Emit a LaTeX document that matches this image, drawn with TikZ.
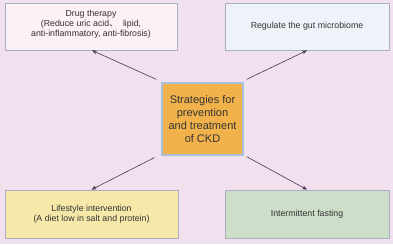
\documentclass[tikz,border=0pt]{standalone}
\usepackage{fontspec}
\setmainfont{Liberation Sans}
\newfontfamily\cjk{Noto Sans CJK SC}
\usetikzlibrary{arrows.meta}
\definecolor{bg}{HTML}{F1E1EE}
\definecolor{txt}{HTML}{333333}
\definecolor{edge}{HTML}{ABAFC4}
\definecolor{arr}{HTML}{463850}
\definecolor{fpink}{HTML}{FBF1F6}
\definecolor{fblue}{HTML}{EEF2F9}
\definecolor{forange}{HTML}{F2B24B}
\definecolor{eorange}{HTML}{A8C1DD}
\definecolor{fyellow}{HTML}{F5E8A9}
\definecolor{fgreen}{HTML}{CDDEC9}
\tikzset{
  outer/.style={draw=edge, line width=0.8pt, text=txt, align=center, font=\fontsize{8.8}{10.3}\selectfont, minimum width=172pt, minimum height=47pt, inner sep=0pt},
  centre/.style={draw=eorange, line width=1.2pt, fill=forange, text=txt, align=center, font=\fontsize{11}{13}\selectfont, minimum width=81pt, minimum height=72pt, inner sep=0pt},
  conn/.style={draw=arr, line width=0.6pt, -{Stealth[length=5pt,width=4pt]}}
}
\begin{document}
\begin{tikzpicture}[x=1pt,y=-1pt]
\fill[bg] (0,0) rectangle (393,244);
\useasboundingbox (0,0) rectangle (393,244);
\node[outer, fill=fpink, minimum width=172pt] (drug) at (91,26.5) {Drug therapy\\(Reduce uric acid{\cjk 、}\ \ lipid,\\anti-inflammatory, anti-fibrosis)\\[-4pt]\mbox{}};
\node[outer, fill=fblue, minimum width=164pt] (gut) at (307,26.5) {Regulate the gut microbiome};
\node[centre] (ckd) at (202.5,119) {Strategies for\\prevention\\and treatment\\of CKD};
\node[outer, fill=fyellow, minimum width=173pt, minimum height=48pt] (life) at (91.5,214) {Lifestyle intervention\\(A diet low in salt and protein)};
\node[outer, fill=fgreen, minimum width=164pt, minimum height=48pt] (fast) at (307,214) {Intermittent fasting};
\draw[conn] ([shift={(-5,-3)}]ckd.north west) -- ([xshift=1pt]drug.south);
\draw[conn] ([shift={(3,-3)}]ckd.north east) -- (gut.south);
\draw[conn] ([shift={(-7,2)}]ckd.south west) -- (life.north);
\draw[conn] ([shift={(3,1)}]ckd.south east) -- (fast.north);
\end{tikzpicture}
\end{document}
